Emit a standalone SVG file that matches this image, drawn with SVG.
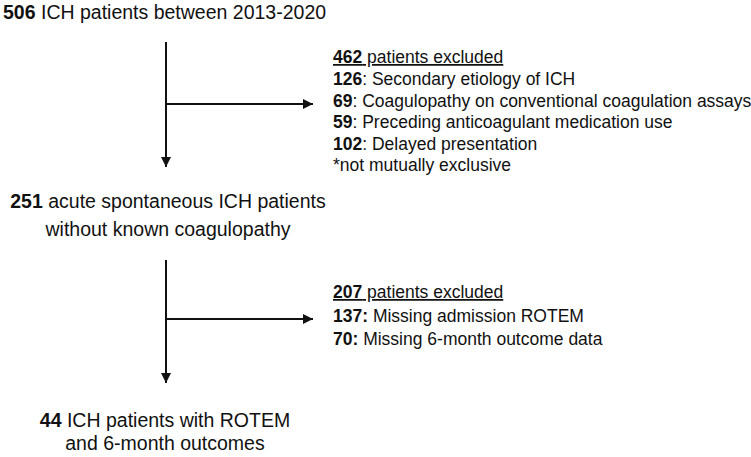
<svg xmlns="http://www.w3.org/2000/svg" width="751" height="457" viewBox="0 0 751 457">
<style>
text{font-family:"Liberation Sans",Arial,sans-serif;font-size:19.5px;fill:#111}
.s{font-size:17.5px}
.b{font-weight:bold}
.u{text-decoration:underline}
.c{text-anchor:middle}
.ln{stroke:#111;stroke-width:2;fill:none}
</style>
<defs>
<marker id="ah" viewBox="0 0 10 10" refX="10" refY="5" markerWidth="5" markerHeight="5" orient="auto" markerUnits="strokeWidth">
<path d="M0,0L10,5L0,10z" fill="#111"/>
</marker>
</defs>
<rect width="751" height="457" fill="#fff"/>
<g id="connectors">
<line class="ln" x1="166" y1="42" x2="166" y2="167" marker-end="url(#ah)"/>
<line class="ln" x1="166" y1="104" x2="313" y2="104" marker-end="url(#ah)"/>
<line class="ln" x1="166" y1="260" x2="166" y2="383" marker-end="url(#ah)"/>
<line class="ln" x1="166" y1="319" x2="313" y2="319" marker-end="url(#ah)"/>
</g>
<g id="n1"><text x="3" y="19"><tspan class="b">506</tspan> ICH patients between 2013-2020</text></g>
<g id="ex1">
<text x="333" y="63" class="s u"><tspan class="b">462</tspan> patients excluded</text>
<text x="333" y="85" class="s"><tspan class="b">126</tspan>: Secondary etiology of ICH</text>
<text x="333" y="107" class="s"><tspan class="b">69</tspan>: Coagulopathy on conventional coagulation assays</text>
<text x="333" y="128" class="s"><tspan class="b">59</tspan>: Preceding anticoagulant medication use</text>
<text x="333" y="150" class="s"><tspan class="b">102</tspan>: Delayed presentation</text>
<text x="333" y="171" class="s">*not mutually exclusive</text>
</g>
<g id="n2">
<text x="168" y="208" class="c"><tspan class="b">251</tspan> acute spontaneous ICH patients</text>
<text x="168" y="236" class="c">without known coagulopathy</text>
</g>
<g id="ex2">
<text x="333" y="298" class="s u"><tspan class="b">207</tspan> patients excluded</text>
<text x="333" y="322" class="s"><tspan class="b">137:</tspan> Missing admission ROTEM</text>
<text x="333" y="345" class="s"><tspan class="b">70:</tspan> Missing 6-month outcome data</text>
</g>
<g id="n3">
<text x="165" y="427" class="c"><tspan class="b">44</tspan> ICH patients with ROTEM</text>
<text x="165" y="450" class="c">and 6-month outcomes</text>
</g>
</svg>
